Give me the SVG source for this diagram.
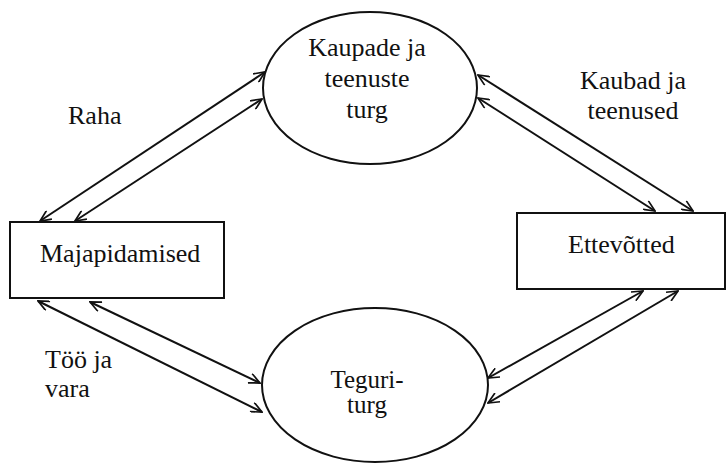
<svg xmlns="http://www.w3.org/2000/svg" width="727" height="464" viewBox="0 0 727 464">
  <style>
    .box { fill: #ffffff; stroke: #111111; stroke-width: 2; }
    .oval { fill: #ffffff; stroke: #111111; stroke-width: 2; }
    .lbl { font-family: 'Liberation Serif', 'DejaVu Serif', 'Times New Roman', serif; font-size: 26px; fill: #111111; }
    .tight { font-size: 25px; }
    .mid { text-anchor: middle; }
    .flow { stroke: #111111; stroke-width: 2; fill: none; marker-start: url(#tip); marker-end: url(#tip); }
  </style>
  <defs>
    <!-- open V arrowhead used at both ends of every flow line -->
    <marker id="tip" viewBox="0 0 13 11" refX="12" refY="5.5" markerWidth="13" markerHeight="11" markerUnits="userSpaceOnUse" orient="auto-start-reverse">
      <path d="M1,0.5 L12,5.5 L1,10.5" fill="none" stroke="#111111" stroke-width="1.7"/>
    </marker>
  </defs>
  <rect width="727" height="464" fill="#ffffff"/>

  <g id="connectors">
    <!-- Majapidamised <-> goods market -->
    <line class="flow" x1="40" y1="221" x2="265" y2="72"/>
    <line class="flow" x1="75" y1="221" x2="262" y2="99"/>
    <!-- goods market <-> Ettevõtted -->
    <line class="flow" x1="478" y1="75" x2="693" y2="211"/>
    <line class="flow" x1="478" y1="98" x2="655" y2="211"/>
    <!-- Majapidamised <-> factor market -->
    <line class="flow" x1="38" y1="301" x2="262" y2="412"/>
    <line class="flow" x1="90" y1="302" x2="260" y2="383"/>
    <!-- factor market <-> Ettevõtted -->
    <line class="flow" x1="488" y1="378" x2="643" y2="291"/>
    <line class="flow" x1="488" y1="403" x2="678" y2="291"/>
  </g>

  <g id="goods-market">
    <ellipse class="oval" cx="370" cy="88" rx="107" ry="76"/>
    <text class="lbl mid" x="367" y="56">Kaupade ja</text>
    <text class="lbl mid" x="367" y="87">teenuste</text>
    <text class="lbl mid" x="367" y="118">turg</text>
  </g>

  <g id="factor-market">
    <ellipse class="oval" cx="375" cy="385" rx="113" ry="77"/>
    <text class="lbl tight mid" x="367" y="388">Teguri-</text>
    <text class="lbl tight mid" x="367" y="413">turg</text>
  </g>

  <g id="households">
    <rect class="box" x="10" y="222" width="214" height="76"/>
    <text class="lbl" x="40" y="262">Majapidamised</text>
  </g>

  <g id="firms">
    <rect class="box" x="517" y="213" width="208" height="76"/>
    <text class="lbl" x="568" y="253">Ettevõtted</text>
  </g>

  <g id="flow-labels">
    <text class="lbl" x="68" y="124">Raha</text>
    <text class="lbl mid" x="633" y="89">Kaubad ja</text>
    <text class="lbl mid" x="633" y="119">teenused</text>
    <text class="lbl" x="45" y="368">Töö ja</text>
    <text class="lbl" x="45" y="397">vara</text>
  </g>
</svg>
